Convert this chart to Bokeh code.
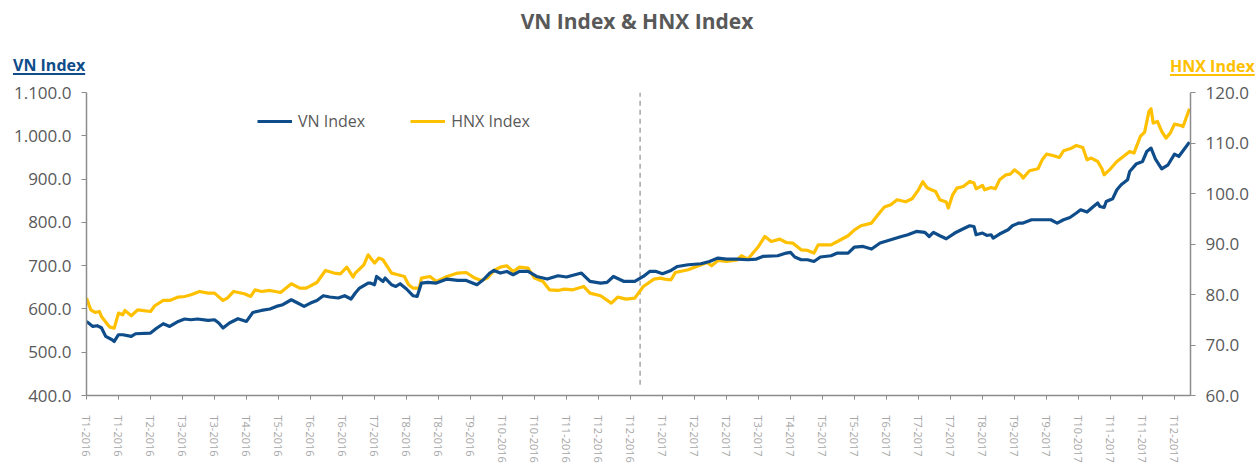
from bokeh.plotting import figure
from bokeh.models import (Range1d, LinearAxis, FixedTicker, Legend, LegendItem,
                          ColumnDataSource, Div)
from bokeh.layouts import column
from bokeh.embed import file_html
from bokeh.resources import INLINE

# ---------------- data ----------------
chart_title = "VN Index & HNX Index"
left_title = "VN Index"
right_title = "HNX Index"

tick_labels = ["T1-2016", "T1-2016", "T2-2016", "T3-2016", "T3-2016", "T4-2016",
               "T5-2016", "T6-2016", "T6-2016", "T7-2016", "T8-2016", "T8-2016",
               "T9-2016", "T10-2016", "T10-2016", "T11-2016", "T12-2016", "T12-2016",
               "T1-2017", "T2-2017", "T2-2017", "T3-2017", "T4-2017", "T5-2017",
               "T5-2017", "T6-2017", "T7-2017", "T7-2017", "T8-2017", "T9-2017",
               "T9-2017", "T10-2017", "T11-2017", "T11-2017", "T12-2017"]
tick_step = 15          # trading days between labelled ticks
year_split = 259.5      # first trading session of 2017

vn_day = [0, 3, 5, 7, 9, 12, 13, 15, 17, 21, 23, 30, 33, 36, 39, 43, 46, 49, 52, 57,
          60, 62, 64, 67, 71, 75, 78, 82, 86, 89, 92, 96, 99, 102, 105, 108, 111, 114,
          118, 121, 124, 126, 128, 132, 133, 135, 136, 139, 140, 143, 145, 147, 150,
          153, 155, 157, 160, 164, 169, 174, 178, 183, 186, 189, 191, 194, 197, 200,
          203, 207, 211, 216, 221, 225, 232, 236, 241, 244, 247, 252, 257, 261, 264,
          267, 270, 274, 277, 282, 288, 292, 296, 300, 305, 310, 314, 317, 324, 328,
          330, 332, 335, 338, 341, 344, 349, 352, 357, 360, 364, 368, 372, 377, 382,
          385, 389, 393, 395, 397, 400, 403, 407, 411, 414, 416, 417, 420, 422, 424,
          425, 428, 432, 434, 437, 439, 443, 447, 452, 455, 458, 461, 464, 466, 469,
          472, 474, 475, 477, 478, 481, 483, 485, 488, 489, 492, 495, 497, 499, 501,
          504, 507, 510, 512, 514, 517]
vn_val = [571.1, 559.6, 561.2, 556.6, 536.5, 528.9, 524.9, 540.4, 540.4, 536.5, 542.7,
          544.3, 555.9, 565.8, 559.6, 571.1, 576.7, 575.0, 576.7, 573.4, 575.0, 567.4,
          555.9, 567.4, 577.4, 571.1, 591.9, 596.5, 599.8, 605.8, 609.7, 621.2, 613.6,
          605.8, 613.6, 619.6, 630.5, 627.5, 625.2, 630.5, 622.9, 636.7, 648.3, 659.8,
          659.8, 655.9, 675.0, 663.5, 671.4, 655.9, 652.0, 658.2, 646.0, 630.5, 628.9,
          659.8, 661.2, 659.8, 669.0, 665.8, 665.8, 655.9, 667.4, 682.9, 688.9, 682.9,
          686.6, 679.0, 686.6, 686.6, 675.0, 669.0, 676.7, 673.7, 682.9, 663.5, 659.8,
          661.2, 675.0, 663.5, 663.5, 675.0, 686.6, 686.6, 681.3, 688.9, 698.1, 702.1,
          704.4, 709.7, 717.5, 715.2, 715.2, 713.6, 715.2, 721.2, 722.9, 729.1, 730.5,
          719.9, 713.6, 713.6, 709.7, 719.9, 722.9, 729.1, 729.1, 743.0, 744.3, 738.3,
          752.2, 759.8, 767.4, 771.4, 779.0, 776.7, 767.4, 776.7, 769.0, 762.1, 775.3,
          785.2, 792.1, 790.5, 771.4, 775.3, 769.7, 771.4, 763.7, 773.0, 782.9, 792.1,
          798.4, 798.4, 806.0, 806.0, 806.0, 798.4, 806.0, 811.3, 821.5, 829.1, 823.8,
          836.7, 844.6, 836.7, 834.4, 848.3, 854.5, 875.3, 886.8, 898.4, 917.5, 934.6,
          940.6, 963.7, 971.6, 946.9, 923.8, 933.0, 957.7, 952.2, 965.4, 985.4]

hnx_day = [0, 2, 4, 6, 7, 10, 11, 13, 15, 17, 18, 21, 24, 30, 32, 36, 39, 43, 46, 49,
           53, 57, 60, 64, 66, 69, 74, 77, 79, 82, 86, 91, 96, 100, 103, 108, 112, 116,
           119, 122, 125, 126, 130, 132, 135, 137, 139, 143, 146, 149, 151, 153, 156,
           157, 161, 164, 169, 174, 178, 182, 185, 188, 191, 194, 197, 200, 203, 207,
           210, 214, 217, 221, 224, 228, 233, 236, 241, 246, 249, 253, 257, 261, 266,
           269, 271, 274, 276, 282, 286, 291, 293, 296, 300, 305, 307, 310, 313, 315,
           318, 321, 325, 328, 331, 335, 338, 341, 343, 349, 352, 357, 360, 363, 368,
           371, 374, 377, 380, 384, 387, 390, 392, 394, 396, 398, 400, 403, 404, 406,
           408, 411, 414, 416, 417, 420, 421, 424, 426, 428, 431, 433, 435, 438, 439,
           442, 446, 448, 450, 453, 456, 458, 461, 464, 467, 469, 471, 474, 476, 477,
           480, 483, 486, 489, 491, 494, 496, 498, 499, 500, 502, 504, 506, 508, 510,
           513, 514, 516, 517]
hnx_val = [79.29, 76.97, 76.44, 76.64, 75.65, 74.00, 73.55, 73.35, 76.32, 75.98, 76.84,
           75.79, 76.97, 76.64, 77.77, 78.82, 78.82, 79.49, 79.61, 79.94, 80.60, 80.28,
           80.28, 78.82, 79.29, 80.60, 80.14, 79.61, 80.93, 80.60, 80.80, 80.40, 82.12,
           81.27, 81.27, 82.38, 84.76, 84.24, 84.10, 85.43, 83.45, 84.24, 85.88, 87.86,
           86.22, 87.21, 86.87, 84.24, 83.90, 83.57, 81.92, 81.27, 81.27, 83.25, 83.57,
           82.58, 83.57, 84.24, 84.36, 83.25, 82.78, 83.25, 84.76, 85.43, 85.69, 84.56,
           85.43, 85.23, 83.25, 82.58, 80.93, 80.80, 81.07, 80.93, 81.59, 80.28, 79.75,
           78.30, 79.49, 79.09, 79.29, 81.59, 83.05, 83.25, 83.05, 82.91, 84.36, 84.89,
           85.55, 86.34, 85.69, 86.74, 86.54, 86.87, 87.67, 87.01, 88.52, 89.51, 91.49,
           90.50, 90.97, 90.30, 90.18, 88.85, 88.72, 88.20, 89.84, 89.84, 90.50, 91.63,
           92.81, 93.61, 94.14, 95.78, 97.31, 97.76, 98.75, 98.36, 98.95, 100.73, 102.32,
           101.13, 100.73, 100.40, 98.75, 98.30, 97.11, 99.74, 101.07, 101.39, 102.38,
           102.06, 100.93, 101.59, 100.73, 101.19, 100.93, 102.71, 103.70, 103.84,
           104.69, 103.70, 103.05, 104.50, 104.89, 106.67, 107.80, 107.53, 107.13,
           108.46, 108.85, 109.51, 109.11, 106.67, 107.01, 106.34, 104.89, 103.70,
           104.89, 106.34, 107.33, 108.32, 108.00, 111.29, 112.16, 116.24, 116.77,
           113.94, 114.26, 112.28, 110.97, 111.96, 113.74, 113.47, 113.27, 115.58, 116.77]

vn_ticks = [400, 500, 600, 700, 800, 900, 1000, 1100]
vn_tick_labels = ["400.0", "500.0", "600.0", "700.0", "800.0", "900.0", "1.000.0", "1.100.0"]
hnx_ticks = [60, 70, 80, 90, 100, 110, 120]
hnx_tick_labels = ["60.0", "70.0", "80.0", "90.0", "100.0", "110.0", "120.0"]

# ---------------- style ----------------
BLUE = "#0E4C8A"
GOLD = "#FFC000"
GREY_TXT = "#595959"
AXIS_GREY = "#8C8C8C"
FONT = "Open Sans"
W = 1250
HEADER_H = 82

n_ticks = len(tick_labels)
x_ticks = [i * tick_step for i in range(n_ticks)]

# header with the chart title and the two underlined axis titles
header_html = f"""
<div style="position:relative;width:{W}px;height:{HEADER_H}px;font-family:'{FONT}',sans-serif;">
  <div style="position:absolute;left:637px;top:8px;transform:translateX(-50%);white-space:nowrap;
              font-size:21px;font-weight:700;color:{GREY_TXT};line-height:26px;">{chart_title}</div>
  <div style="position:absolute;left:13px;top:57px;font-size:16px;font-weight:700;
              color:{BLUE};line-height:16px;text-decoration:underline;white-space:nowrap;
              text-underline-offset:2px;text-decoration-thickness:1.5px;">{left_title}</div>
  <div style="position:absolute;left:1170px;top:58px;font-size:16px;font-weight:700;
              color:{GOLD};line-height:16px;text-decoration:underline;white-space:nowrap;
              text-underline-offset:2px;text-decoration-thickness:1.5px;">{right_title}</div>
</div>
"""
header = Div(text=header_html, width=W, height=HEADER_H, margin=(0, 0, 0, 0))

p = figure(frame_width=1104, frame_height=303,
           min_border_left=86, min_border_right=60, min_border_top=10, min_border_bottom=66,
           x_range=Range1d(0, 517.5), y_range=Range1d(400, 1100),
           output_backend="svg", toolbar_location=None, background_fill_color="white",
           border_fill_color="white", margin=(0, 0, 0, 0))
p.outline_line_color = None
p.xgrid.grid_line_color = None
p.ygrid.grid_line_color = None
p.extra_y_ranges = {"hnx": Range1d(60, 120)}

# dashed separator between years
p.segment(x0=[year_split], y0=[425], x1=[year_split], y1=[1100],
          line_color="#A6A6A6", line_width=1.5, line_dash="5 4")

src_vn = ColumnDataSource(dict(x=vn_day, y=vn_val))
src_hnx = ColumnDataSource(dict(x=hnx_day, y=hnx_val))
r_hnx = p.line("x", "y", source=src_hnx, line_color=GOLD, line_width=3.2,
               y_range_name="hnx", line_join="round")
r_vn = p.line("x", "y", source=src_vn, line_color=BLUE, line_width=3.2, line_join="round")

# x axis
xa = p.xaxis[0]
xa.ticker = FixedTicker(ticks=x_ticks)
xa.major_label_overrides = {t: l for t, l in zip(x_ticks, tick_labels)}
xa.major_label_orientation = "vertical"
xa.major_label_text_font = FONT
xa.major_label_text_font_size = "11px"
xa.major_label_text_color = "#A6A6A6"
xa.major_label_standoff = 16
xa.minor_tick_line_color = None
xa.major_tick_in = 0
xa.major_tick_out = 4
xa.major_tick_line_color = AXIS_GREY
xa.axis_line_color = AXIS_GREY
xa.axis_line_width = 1.5

# left axis
ya = p.yaxis[0]
ya.ticker = FixedTicker(ticks=vn_ticks)
ya.major_label_overrides = {t: l for t, l in zip(vn_ticks, vn_tick_labels)}
ya.major_label_text_font = FONT
ya.major_label_text_font_size = "17px"
ya.major_label_text_color = GREY_TXT
ya.major_label_standoff = 10
ya.minor_tick_line_color = None
ya.major_tick_in = 0
ya.major_tick_out = 5
ya.major_tick_line_color = AXIS_GREY
ya.axis_line_color = AXIS_GREY
ya.axis_line_width = 1.5

# right axis
ra = LinearAxis(y_range_name="hnx")
ra.ticker = FixedTicker(ticks=hnx_ticks)
ra.major_label_overrides = {t: l for t, l in zip(hnx_ticks, hnx_tick_labels)}
ra.major_label_text_font = FONT
ra.major_label_text_font_size = "17px"
ra.major_label_text_color = GREY_TXT
ra.major_label_standoff = 10
ra.minor_tick_line_color = None
ra.major_tick_in = 0
ra.major_tick_out = 5
ra.major_tick_line_color = AXIS_GREY
ra.axis_line_color = AXIS_GREY
ra.axis_line_width = 1.5
p.add_layout(ra, "right")

# legend
legend = Legend(items=[LegendItem(label="VN Index", renderers=[r_vn]),
                       LegendItem(label="HNX Index", renderers=[r_hnx])],
                orientation="horizontal", location=(171, 263),
                label_text_font=FONT, label_text_font_size="16px",
                label_text_color=GREY_TXT, glyph_width=35, glyph_height=20,
                spacing=45, padding=0, margin=0, border_line_color=None,
                background_fill_alpha=0, label_standoff=6)
p.add_layout(legend)

layout = column(header, p, spacing=0)
html = file_html(layout, INLINE)
open("out.html", "w").write(html)
